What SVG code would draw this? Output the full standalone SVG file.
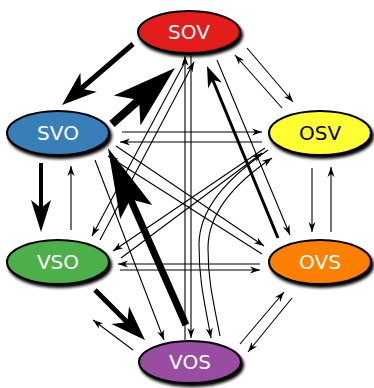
<svg xmlns="http://www.w3.org/2000/svg" width="374" height="388" viewBox="0 0 374 388">
<style>
.n ellipse{stroke:#000;stroke-width:2;filter:url(#sh)}
.n text{font-family:"DejaVu Sans",sans-serif;font-size:20px;text-anchor:middle;fill:#fff}
.t{stroke:#000;stroke-width:1.1;fill:none;marker-end:url(#ht)}
.k{stroke:#000;fill:none;stroke-linecap:butt}
</style>
<defs>
<filter id="sh" x="-20%" y="-30%" width="150%" height="170%">
<feGaussianBlur in="SourceAlpha" stdDeviation="1.6"/>
<feOffset dx="2" dy="3" result="b"/>
<feMerge><feMergeNode in="b"/><feMergeNode in="SourceGraphic"/></feMerge>
</filter>
<marker id="ht" markerUnits="userSpaceOnUse" orient="auto" overflow="visible" markerWidth="10" markerHeight="10">
<path d="M0,0 L-10,-3.5 L-7,0 L-10,3.5 z" fill="#000"/>
</marker>
<marker id="h7" markerUnits="strokeWidth" orient="auto" overflow="visible" markerWidth="8" markerHeight="6">
<path d="M2,0 L-5,-2.5 L-3,0 L-5,2.5 z" fill="#000"/>
</marker>
<marker id="h8" markerUnits="strokeWidth" orient="auto" overflow="visible" markerWidth="8" markerHeight="6">
<path d="M2,0 L-6,-2.5 L-4,0 L-6,2.5 z" fill="#000"/>
</marker>
<marker id="h10" markerUnits="strokeWidth" orient="auto" overflow="visible" markerWidth="10" markerHeight="6">
<path d="M2,0 L-8,-2.5 L-6,0 L-8,2.5 z" fill="#000"/>
</marker>
</defs>
<g id="connectors">
<path class="t" d="M247,48 L293,102"/>
<path class="t" d="M282,108 L235,55"/>
<path class="t" d="M312,168 L312,232"/>
<path class="t" d="M331,232 L331,167"/>
<path class="t" d="M122,132 L262,132"/>
<path class="t" d="M262,142 L120,142"/>
<path class="t" d="M120,270 L260,270"/>
<path class="t" d="M260,264 L118,264"/>
<path class="t" d="M71,230 L71,166"/>
<path class="t" d="M133,350 L93,320"/>
<path class="t" d="M292,298 L248,352"/>
<path class="t" d="M240,344 L284,292"/>
<path class="t" d="M191,56 L191,338"/>
<path class="t" d="M185,340 L185,56"/>
<path class="t" d="M186,60 L92,236"/>
<path class="t" d="M100,240 L194,62"/>
<path class="t" d="M116,146 L264,246"/>
<path class="t" d="M262,254 L108,156"/>
<path class="t" d="M265,148 L113,251"/>
<path class="t" d="M121,258 L262,153"/>
<path class="t" d="M95,160 L164,340"/>
<path class="t" d="M268,150 C225,180 199,210 199,245 C199,280 204,300 211,338"/>
<path class="t" d="M220,336 C213,300 208,280 208,248 C208,215 232,185 272,158"/>
<path class="t" d="M217,60 L290,235"/>
<path class="k" d="M133,44 L69.6,98.5" stroke-width="5" marker-end="url(#h7)"/>
<path class="k" d="M112,124 L163,78.6" stroke-width="8" marker-end="url(#h8)"/>
<path class="k" d="M41,163 L41,224" stroke-width="4" marker-end="url(#h8)"/>
<path class="k" d="M95,290 L137.9,332.9" stroke-width="5" marker-end="url(#h7)"/>
<path class="k" d="M186,325 L113.6,160.8" stroke-width="7" marker-end="url(#h10)"/>
<path class="k" d="M278,238 L209.3,71.5" stroke-width="3" marker-end="url(#h7)"/>
</g>
<g id="SOV" class="n"><ellipse cx="189" cy="32" rx="51" ry="21" fill="#e31a1c"/><text x="189" y="39">SOV</text></g>
<g id="SVO" class="n"><ellipse cx="58" cy="133" rx="51" ry="22" fill="#377eb8"/><text x="58" y="140">SVO</text></g>
<g id="OSV" class="n"><ellipse cx="320" cy="133" rx="51" ry="22" fill="#ffff33"/><text x="320" y="140" style="fill:#000">OSV</text></g>
<g id="VSO" class="n"><ellipse cx="58" cy="262" rx="51" ry="22" fill="#4daf4a"/><text x="58" y="269">VSO</text></g>
<g id="OVS" class="n"><ellipse cx="320" cy="262" rx="51" ry="22" fill="#ff7f00"/><text x="320" y="269">OVS</text></g>
<g id="VOS" class="n"><ellipse cx="190" cy="362" rx="51" ry="21" fill="#984ea3"/><text x="190" y="369">VOS</text></g>
</svg>
